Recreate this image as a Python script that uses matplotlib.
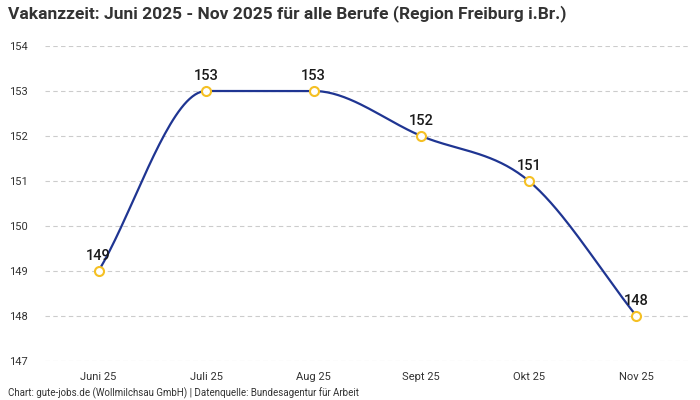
#!/usr/bin/env python3
import numpy as np
import matplotlib
matplotlib.use('Agg')
import matplotlib.pyplot as plt
from matplotlib import font_manager

months = ['Juni 25', 'Juli 25', 'Aug 25', 'Sept 25', 'Okt 25', 'Nov 25']
vakanzzeit = [149, 153, 153, 152, 151, 148]
y_ticks = [147, 148, 149, 150, 151, 152, 153, 154]

title = 'Vakanzzeit: Juni 2025 - Nov 2025 für alle Berufe (Region Freiburg i.Br.)'
footer = 'Chart: gute-jobs.de (Wollmilchsau GmbH) | Datenquelle: Bundesagentur für Arbeit'

names = {f.name for f in font_manager.fontManager.ttflist}
family = [f for f in ['Liberation Sans Narrow', 'Roboto', 'DejaVu Sans'] if f in names]
plt.rcParams['font.family'] = family

def monotone_curve(x, y, n = 40):
   """Fritsch-Carlson monotone cubic, sampled between the points."""
   x = np.asarray(x, float); y = np.asarray(y, float)
   h = np.diff(x); d = np.diff(y) / h
   m = np.zeros_like(y)
   m[0] = d[0]; m[-1] = d[-1]
   for i in range(1, len(y) - 1):
      m[i] = 0 if d[i - 1] * d[i] <= 0 else (d[i - 1] + d[i]) / 2
   for i in range(len(d)):
      if d[i] == 0:
         m[i] = m[i + 1] = 0
         continue
      a = m[i] / d[i]; b = m[i + 1] / d[i]
      s = a * a + b * b
      if s > 9:
         t = 3 / np.sqrt(s)
         m[i] = t * a * d[i]; m[i + 1] = t * b * d[i]
   xs, ys = [], []
   for i in range(len(d)):
      t = np.linspace(0, 1, n)
      h00 = 2 * t**3 - 3 * t**2 + 1; h10 = t**3 - 2 * t**2 + t
      h01 = -2 * t**3 + 3 * t**2; h11 = t**3 - t**2
      xs.extend(x[i] + t * h[i])
      ys.extend(h00 * y[i] + h10 * h[i] * m[i] + h01 * y[i + 1] + h11 * h[i] * m[i + 1])
   return np.array(xs), np.array(ys)

fig = plt.figure(figsize = (7, 4), dpi = 100)
ax = fig.add_axes([0.064, 0.0975, 0.922, 0.7875])

pos = np.arange(len(months))
cx, cy = monotone_curve(pos, vakanzzeit)
ax.plot(cx, cy, color = '#1f3592', lw = 1.6, zorder = 2)
ax.plot(pos, vakanzzeit, 'o', ms = 6.5, mfc = 'white', mec = '#f5c024', mew = 1.5, zorder = 3)
for p, v in zip(pos, vakanzzeit):
   ax.annotate(str(v), (p, v), xytext = (0, 6), textcoords = 'offset points',
               ha = 'center', va = 'bottom', fontsize = 10.5, fontweight = 'medium', color = '#1a1a1a')

ax.set_xlim(-0.5, len(months) - 0.5)
ax.set_ylim(y_ticks[0], y_ticks[-1])
ax.set_xticks(pos, months)
ax.set_yticks(y_ticks)
ax.tick_params(length = 0, labelsize = 8, colors = '#333333')
ax.tick_params(axis = 'x', pad = 8)
ax.tick_params(axis = 'y', pad = 26)
for lbl in ax.get_yticklabels():
   lbl.set_horizontalalignment('left')
ax.grid(axis = 'y', color = '#cccccc', ls = (0, (4, 3)), lw = 0.8)
for s in ax.spines.values():
   s.set_visible(False)

fig.text(0.011, 0.965, title, fontsize = 12.5, fontweight = 'bold', color = '#333333', va = 'center')
fig.text(0.011, 0.017, footer, fontsize = 7, color = '#333333', va = 'center')

fig.savefig('out.png', dpi = 100)
